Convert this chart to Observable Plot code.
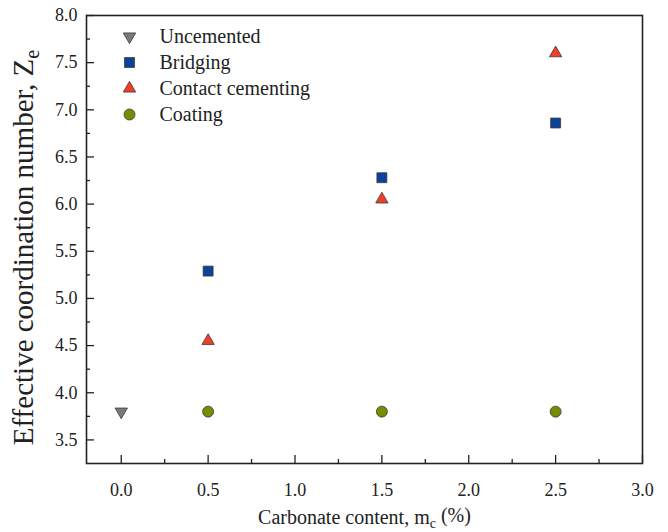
<!DOCTYPE html>
<html><head><meta charset="utf-8">
<script src="https://cdn.jsdelivr.net/npm/d3@7"></script>
<script src="https://cdn.jsdelivr.net/npm/@observablehq/plot@0.6"></script>
<style>
body{margin:0;background:#fff}
#chart{width:668px;height:532px}
#chart svg, #chart svg text, #chart svg tspan { font-family: "Liberation Serif", "Times New Roman", serif !important; }
</style>
</head><body><div id="chart"></div>
<script>
// ---- data ----
const seriesNames = ["Uncemented", "Bridging", "Contact cementing", "Coating"];
const uncementedX = [0.0];
const uncementedY = [3.80];
const bridgingX = [0.5, 1.5, 2.5];
const bridgingY = [5.29, 6.28, 6.86];
const contactX = [0.5, 1.5, 2.5];
const contactY = [4.55, 6.05, 7.60];
const coatingX = [0.5, 1.5, 2.5];
const coatingY = [3.80, 3.80, 3.80];
const xTicks = [0.0, 0.5, 1.0, 1.5, 2.0, 2.5, 3.0];
const xMinorTicks = [0.25, 0.75, 1.25, 1.75, 2.25, 2.75];
const yTicks = [3.5, 4.0, 4.5, 5.0, 5.5, 6.0, 6.5, 7.0, 7.5, 8.0];
const yMinorTicks = [3.75, 4.25, 4.75, 5.25, 5.75, 6.25, 6.75, 7.25, 7.75];
const xTitle = "Carbonate content, m_c (%)";
const yTitle = "Effective coordination number, Z_e";

const colors = ["#7a7a7a", "#0a4399", "#f23d2b", "#768c00"];
const font = "Liberation Serif";

const triangleDown = {
  draw(context, size) {
    const y = Math.sqrt(size / (Math.sqrt(3) * 3));
    context.moveTo(0, 2 * y);
    context.lineTo(-Math.sqrt(3) * y, -y);
    context.lineTo(Math.sqrt(3) * y, -y);
    context.closePath();
  }
};
const symbols = [triangleDown, "square", "triangle", "circle"];
const radii = [4.6, 5.6, 4.6, 5.5];

const rows = (xs, ys) => xs.map((x, i) => ({x, y: ys[i]}));
const seriesData = [
  rows(uncementedX, uncementedY),
  rows(bridgingX, bridgingY),
  rows(contactX, contactY),
  rows(coatingX, coatingY)
];

const marks = [];
// ticks (inward)
marks.push(Plot.axisX({ticks: xTicks, tickSize: -8, tickFormat: () => "", stroke: "#222", strokeWidth: 1.3}));
marks.push(Plot.axisX({ticks: xMinorTicks, tickSize: -4, tickFormat: () => "", stroke: "#222", strokeWidth: 1.3}));
marks.push(Plot.axisY({ticks: yTicks, tickSize: -8, tickFormat: () => "", stroke: "#222", strokeWidth: 1.3}));
marks.push(Plot.axisY({ticks: yMinorTicks, tickSize: -4, tickFormat: () => "", stroke: "#222", strokeWidth: 1.3}));
// labels
marks.push(Plot.axisX({ticks: xTicks, tickSize: 0, tickPadding: 20, tickFormat: d3.format(".1f"), fontSize: 18, fontFamily: font, fill: "#222"}));
marks.push(Plot.axisY({ticks: yTicks, tickSize: 0, tickPadding: 9, tickFormat: d3.format(".1f"), fontSize: 18, fontFamily: font, fill: "#222"}));
marks.push(Plot.frame({stroke: "#222", strokeWidth: 1.6}));
// data
seriesData.forEach((d, i) => {
  marks.push(Plot.dot(d, {x: "x", y: "y", symbol: () => symbols[i], r: radii[i], fill: colors[i], stroke: "#3a3a3a", strokeWidth: 0.8}));
});
// legend
seriesNames.forEach((name, i) => {
  marks.push(Plot.dot([name], {frameAnchor: "top-left", dx: 43, dy: 21 + 26 * i, symbol: () => symbols[i], r: radii[i], fill: colors[i], stroke: "#3a3a3a", strokeWidth: 0.8}));
  marks.push(Plot.text([name], {frameAnchor: "top-left", dx: 73, dy: 21 + 26 * i, text: d => d, textAnchor: "start", lineAnchor: "middle", fontSize: 20, fontFamily: font, fill: "#222"}));
});
// titles
marks.push(Plot.text([xTitle], {frameAnchor: "bottom", dy: 54, text: d => d, textAnchor: "middle", lineAnchor: "middle", fontSize: 20, fontFamily: font, fill: "#222"}));
marks.push(Plot.text([yTitle], {frameAnchor: "left", dx: -63, dy: 8, text: d => d, rotate: -90, textAnchor: "middle", lineAnchor: "middle", fontSize: 29, fontFamily: font, fill: "#222"}));

const chart = Plot.plot({
  width: 668,
  height: 532,
  marginTop: 15,
  marginBottom: 69,
  marginLeft: 86,
  marginRight: 26,
  style: {fontFamily: font, background: "#fff", color: "#222"},
  x: {domain: [-0.2, 3.0], label: null, axis: null},
  y: {domain: [3.25, 8.0], label: null, axis: null},
  symbol: {type: "identity"},
  marks
});
document.getElementById("chart").appendChild(chart);

// subscripts in titles
d3.select(chart).selectAll("text").each(function() {
  const t = this.textContent;
  if (t === xTitle || t === yTitle) {
    const m = t.match(/^(.*)_(\w)(.*)$/);
    const el = d3.select(this);
    el.text(null);
    el.append("tspan").text(m[1]);
    el.append("tspan").attr("dy", "0.3em").attr("font-size", "0.7em").text(m[2]);
    if (m[3]) el.append("tspan").attr("dy", "-0.3em").text(m[3]);
  }
});
</script>
</body></html>
